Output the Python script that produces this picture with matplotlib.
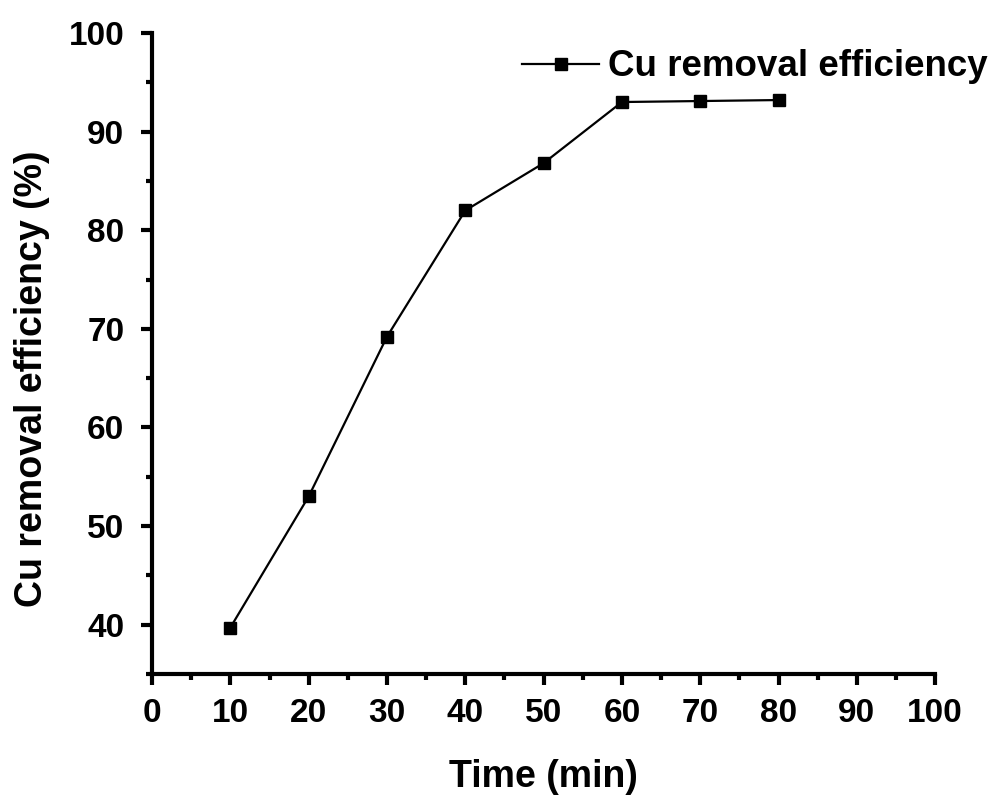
import matplotlib.pyplot as plt
from matplotlib.ticker import MultipleLocator

plt.rcParams['font.family'] = ['Liberation Sans', 'DejaVu Sans']
plt.rcParams['font.weight'] = 'bold'

# data
time_min = [10, 20, 30, 40, 50, 60, 70, 80]
cu_removal = [39.7, 53.0, 69.2, 82.0, 86.8, 93.0, 93.1, 93.2]

fig = plt.figure(figsize=(9.97, 7.99), dpi=100)
ax = fig.add_axes([0.1525, 0.1565, 0.7855, 0.8022])

ax.plot(time_min, cu_removal, color='black', linewidth=1.6, marker='s',
        markersize=9, label='Cu removal efficiency')

ax.set_xlim(0, 100)
ax.set_ylim(35, 100)
ax.xaxis.set_major_locator(MultipleLocator(10))
ax.xaxis.set_minor_locator(MultipleLocator(5))
ax.yaxis.set_major_locator(MultipleLocator(10))
ax.yaxis.set_minor_locator(MultipleLocator(5))

for side in ['top', 'right']:
    ax.spines[side].set_visible(False)
for side in ['left', 'bottom']:
    ax.spines[side].set_linewidth(3.0)

ax.tick_params(which='major', direction='out', length=8, width=3.0, labelsize=24)
ax.tick_params(axis='y', which='major', pad=12)
ax.tick_params(axis='x', which='major', pad=9)
ax.tick_params(which='minor', direction='out', length=4, width=3.0)
for lab in ax.get_xticklabels() + ax.get_yticklabels():
    lab.set_fontweight('bold')

ax.set_xlabel('Time (min)', fontsize=27, fontweight='bold', labelpad=22)
ax.set_ylabel('Cu removal efficiency (%)', fontsize=27, fontweight='bold')
ax.yaxis.set_label_coords(-0.130, 0.46)

ax.legend(loc='upper right', bbox_to_anchor=(1.11, 1.026), frameon=False,
          prop={'size': 26.5, 'weight': 'bold'}, handlelength=2.1, handletextpad=0.25)

fig.savefig('out.png', dpi=100)
